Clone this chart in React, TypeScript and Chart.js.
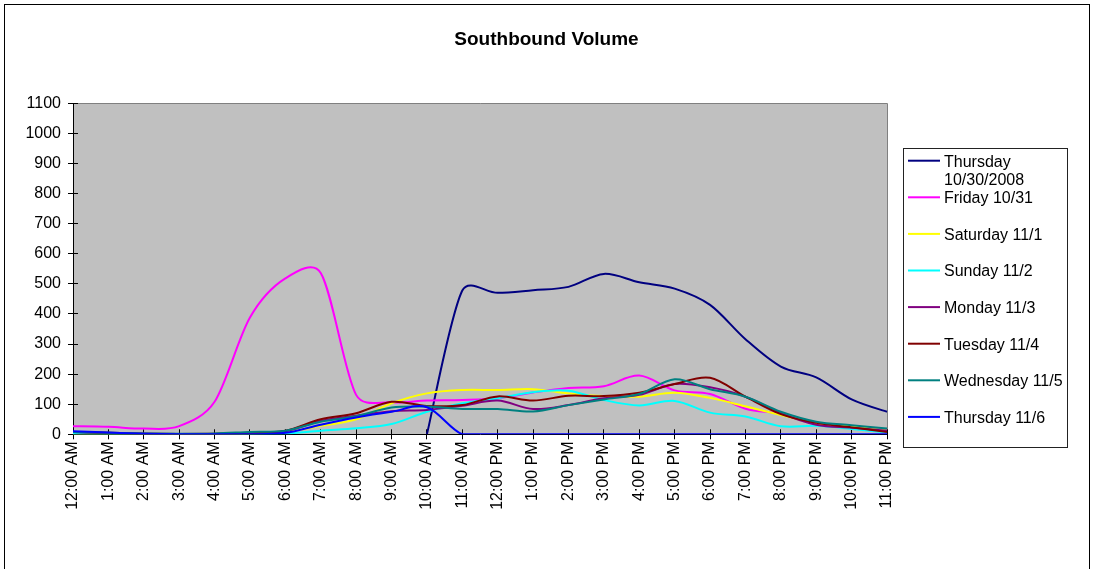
import React, { useEffect, useRef } from 'react';
import { Chart, registerables } from 'chart.js';

Chart.register(...registerables);

const titleText = 'Southbound Volume';

const hours = [
  '12:00 AM', '1:00 AM', '2:00 AM', '3:00 AM', '4:00 AM', '5:00 AM',
  '6:00 AM', '7:00 AM', '8:00 AM', '9:00 AM', '10:00 AM', '11:00 AM',
  '12:00 PM', '1:00 PM', '2:00 PM', '3:00 PM', '4:00 PM', '5:00 PM',
  '6:00 PM', '7:00 PM', '8:00 PM', '9:00 PM', '10:00 PM', '11:00 PM',
];

const seriesNames = [
  'Thursday 10/30/2008', 'Friday 10/31', 'Saturday 11/1', 'Sunday 11/2',
  'Monday 11/3', 'Tuesday 11/4', 'Wednesday 11/5', 'Thursday 11/6',
];

const thu1030 = [null, null, null, null, null, null, null, null, null, null, 0, 478, 470, 479, 490, 533, 505, 484, 430, 316, 225, 189, 116, 75];
const fri1031 = [27, 25, 19, 27, 108, 388, 518, 536, 131, 106, 112, 114, 120, 139, 154, 160, 195, 146, 134, 85, 68, 37, 27, 14];
const sat111 = [2, 0, 0, 0, 0, 2, 8, 28, 50, 103, 136, 147, 147, 150, 136, 127, 125, 138, 121, 93, 64, 37, 27, 12];
const sun112 = [2, 1, 0, 0, 0, 0, 2, 12, 20, 34, 75, 103, 120, 140, 145, 114, 96, 111, 72, 59, 27, 28, 18, 6];
const mon113 = [8, 4, 2, 1, 1, 4, 10, 45, 62, 77, 81, 95, 112, 84, 97, 120, 131, 167, 156, 125, 70, 32, 22, 12];
const tue114 = [8, 5, 2, 1, 2, 5, 12, 50, 70, 108, 94, 97, 126, 112, 128, 127, 138, 167, 188, 125, 67, 38, 23, 8];
const wed115 = [8, 5, 3, 2, 3, 8, 12, 42, 60, 89, 92, 84, 84, 76, 97, 116, 134, 183, 150, 125, 75, 42, 30, 19];
const thu116 = [10, 6, 2, 0, 0, 0, 5, 32, 56, 75, 90, 0, 0, 0, 0, 0, 0, 0, 0, 0, 0, 0, 0, 0];

const seriesColors = ['#000080', '#FF00FF', '#FFFF00', '#00FFFF', '#800080', '#800000', '#008080', '#0000FF'];

const FONT = "'Liberation Sans', Arial, sans-serif";

export default function App() {
  const ref = useRef<HTMLCanvasElement>(null);

  useEffect(() => {
    const canvas = ref.current;
    if (!canvas) return;
    const values = [thu1030, fri1031, sat111, sun112, mon113, tue114, wed115, thu116];
    const n = values.length;

    // Excel-like smoothing: Catmull-Rom handles (chord/6), capped relative to the adjacent segment
    const smoothPlugin = {
      id: 'excelSmooth',
      beforeDatasetsDraw(chart: any) {
        const a = chart.chartArea;
        const clampY = (y: number) => Math.max(a.top, Math.min(a.bottom, y));
        chart.getSortedVisibleDatasetMetas().forEach((meta: any) => {
          const line = meta.dataset;
          if (!line) return;
          line.updateControlPoints(a, 'x');
          const pts = line.points || [];
          for (let i = 0; i < pts.length; i++) {
            const p = pts[i];
            if (p.skip) continue;
            const prev = i > 0 && !pts[i - 1].skip ? pts[i - 1] : p;
            const next = i < pts.length - 1 && !pts[i + 1].skip ? pts[i + 1] : p;
            const hx = (next.x - prev.x) / 6;
            const hy = (next.y - prev.y) / 6;
            const hl = Math.hypot(hx, hy) || 1;
            const d01 = Math.hypot(p.x - prev.x, p.y - prev.y);
            const d12 = Math.hypot(next.x - p.x, next.y - p.y);
            const f1 = Math.min(1, (d01 * 0.4) / hl);
            const f2 = Math.min(1, (d12 * 0.4) / hl);
            p.cp1x = p.x - hx * f1;
            p.cp1y = clampY(p.y - hy * f1);
            p.cp2x = p.x + hx * f2;
            p.cp2y = clampY(p.y + hy * f2);
          }
          line._path = undefined;
        });
      },
    };

    const framePlugin = {
      id: 'frame',
      beforeDraw(chart: any) {
        const { ctx, chartArea: a, width, height } = chart;
        ctx.save();
        ctx.fillStyle = '#ffffff';
        ctx.fillRect(0, 0, width, height);
        ctx.strokeStyle = '#000000';
        ctx.lineWidth = 1;
        ctx.strokeRect(4.5, 4.5, 1085, height + 10);
        ctx.fillStyle = '#C0C0C0';
        ctx.fillRect(a.left, a.top, a.right - a.left, a.bottom - a.top);
        ctx.strokeStyle = '#808080';
        ctx.beginPath();
        const t = Math.floor(a.top) + 0.5;
        const r = Math.floor(a.right) + 0.5;
        ctx.moveTo(a.left, t);
        ctx.lineTo(r, t);
        ctx.lineTo(r, a.bottom);
        ctx.stroke();
        ctx.fillStyle = '#000000';
        ctx.font = `bold 19px ${FONT}`;
        ctx.textAlign = 'center';
        ctx.textBaseline = 'middle';
        ctx.fillText(titleText, 546.5, 39.4);
        ctx.restore();
      },
      beforeDatasetsDraw(chart: any) {
        const { ctx, chartArea: a, scales } = chart;
        ctx.save();
        ctx.strokeStyle = '#000000';
        ctx.lineWidth = 1;
        ctx.beginPath();
        const xs = scales.x;
        for (let i = 0; i < xs.ticks.length; i++) {
          const px = Math.floor(xs.getPixelForTick(i)) + 0.5;
          ctx.moveTo(px, a.bottom - 5);
          ctx.lineTo(px, a.bottom + 5);
        }
        const ys = scales.y;
        for (let i = 0; i < ys.ticks.length; i++) {
          const py = Math.floor(ys.getPixelForTick(i)) + 0.5;
          ctx.moveTo(a.left - 5, py);
          ctx.lineTo(a.left + 5, py);
        }
        ctx.stroke();
        ctx.restore();
      },
      afterDraw(chart: any) {
        const { ctx } = chart;
        const bx = 903.5, by = 148.5, bw = 164, bh = 299;
        ctx.save();
        ctx.fillStyle = '#ffffff';
        ctx.fillRect(bx, by, bw, bh);
        ctx.strokeStyle = '#222222';
        ctx.lineWidth = 1;
        ctx.strokeRect(bx, by, bw, bh);
        ctx.font = `16px ${FONT}`;
        ctx.textAlign = 'left';
        ctx.textBaseline = 'middle';
        chart.data.datasets.forEach((ds: any, i: number) => {
          const y = 160.7 + i * 36.6;
          ctx.strokeStyle = ds.borderColor;
          ctx.lineWidth = 2;
          ctx.beginPath();
          ctx.moveTo(908, y);
          ctx.lineTo(940, y);
          ctx.stroke();
          const words = String(ds.label).split(' ');
          const lines: string[] = [];
          let cur = '';
          for (const w of words) {
            const test = cur ? cur + ' ' + w : w;
            if (cur && ctx.measureText(test).width > 122) {
              lines.push(cur);
              cur = w;
            } else {
              cur = test;
            }
          }
          if (cur) lines.push(cur);
          ctx.fillStyle = '#000000';
          lines.forEach((ln, j) => ctx.fillText(ln, 944, y + 1.5 + j * 18.4));
        });
        ctx.restore();
      },
    };

    const chart = new Chart(canvas, {
      type: 'line',
      data: {
        labels: hours,
        datasets: values.map((v, i) => ({
          label: seriesNames[i],
          data: v,
          borderColor: seriesColors[i],
          backgroundColor: seriesColors[i],
          borderWidth: 2,
          pointRadius: 0,
          fill: false,
          tension: 0.4,
          order: n - 1 - i,
        })),
      },
      options: {
        responsive: false,
        animation: false,
        events: [],
        layout: { padding: { left: 0, right: 214, top: 103.3, bottom: 34.7 } },
        plugins: {
          legend: { display: false },
          title: { display: false },
          tooltip: { enabled: false },
        },
        scales: {
          x: {
            type: 'category',
            offset: false,
            grid: { display: true, drawOnChartArea: false, drawTicks: false },
            border: { display: true, color: '#000000', width: 1 },
            ticks: {
              autoSkip: false,
              maxRotation: 90,
              minRotation: 90,
              padding: 7,
              color: '#000000',
              font: { family: FONT, size: 16 },
            },
            afterFit: (s: any) => { s.height = 100; },
          },
          y: {
            min: 0,
            max: 1100,
            grid: { display: true, drawOnChartArea: false, drawTicks: false },
            border: { display: true, color: '#000000', width: 1 },
            ticks: {
              stepSize: 100,
              padding: 12,
              color: '#000000',
              font: { family: FONT, size: 16 },
              callback: (v: any) => String(v),
            },
            afterFit: (s: any) => { s.width = 73; },
          },
        },
      },
      plugins: [smoothPlugin, framePlugin],
    } as any);

    return () => chart.destroy();
  }, []);

  return (
    <div style={{ position: 'absolute', left: 0, top: 0, width: 1101, height: 569 }}>
      <canvas ref={ref} width={1101} height={569} style={{ display: 'block', width: 1101, height: 569 }} />
    </div>
  );
}
